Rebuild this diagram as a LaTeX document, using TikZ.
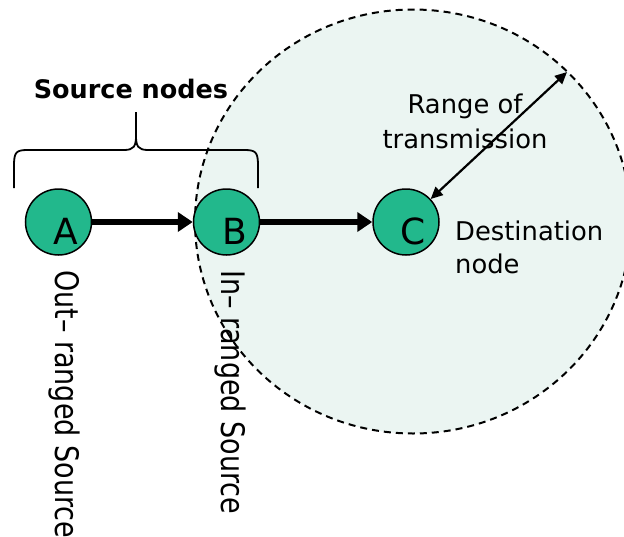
\documentclass[tikz,border=0pt]{standalone}
\usepackage{fontspec}
\setmainfont{DejaVu Sans}
\usetikzlibrary{arrows.meta}
\definecolor{rangefill}{RGB}{235,245,242}
\definecolor{nodegreen}{RGB}{34,184,140}
\begin{document}
\begin{tikzpicture}[x=1pt,y=-1pt,
  netnode/.style={circle,draw=black,line width=1.5pt,fill=nodegreen,minimum size=66pt,inner sep=0pt,
    font=\fontsize{36}{40}\selectfont},
  bigarrow/.style={line width=6pt,-{Triangle[length=15pt,width=19pt]}},
  rangearrow/.style={line width=2.2pt,{Triangle[length=12pt,width=11pt]}-{Triangle[length=12pt,width=11pt]}},
  lbl/.style={font=\fontsize{25.8}{34}\selectfont,inner sep=0pt},
  vlbl/.style={font=\fontsize{27}{30}\selectfont,inner sep=0pt,rotate=-90,anchor=base west}]
\useasboundingbox (0,0) rectangle (624,536);
\clip (0,0) rectangle (624,536);
% range of transmission
\fill[rangefill] (413,221.5) ellipse [x radius=218, y radius=212];
\draw[dashed,line width=2pt,dash pattern=on 7pt off 5pt] (413,221.5) ellipse [x radius=218, y radius=212];
% nodes
\node[netnode] (A) at (58.5,222) {\hspace*{14pt}\raisebox{-9pt}[\height][\depth]{A}};
\node[netnode] (B) at (226.5,222) {\hspace*{16pt}\raisebox{-9pt}[\height][\depth]{B}};
\node[netnode] (C) at (406,222) {\hspace*{14pt}\raisebox{-9pt}[\height][\depth]{C}};
\coordinate (R) at (567,72);
% connectors
\draw[bigarrow] (A) -- (B);
\draw[bigarrow] (B) -- (C);
\draw[rangearrow] (C) -- (R);
% brace
\coordinate (bl) at (14,188);
\coordinate (br) at (258,188);
\coordinate (bt) at (136,112);
\draw[line width=1.8pt] (bl) -- (14,166) .. controls (14,152) and (16,150) .. (28,150)
  -- (124,150) .. controls (134,150) and (136,146) .. (136,136) -- (bt)
  (136,136) .. controls (136,146) and (138,150) .. (148,150)
  -- (244,150) .. controls (256,150) and (258,152) .. (258,166) -- (br);
% labels
\node[lbl,font=\fontsize{25.5}{30}\bfseries\selectfont,anchor=base] (src) at (131,98) {Source nodes};
\node[lbl,anchor=base] (rng1) at (465,113) {Range of};
\node[lbl,anchor=base] (rng2) at (465,148) {transmission};
\node[lbl,anchor=base west] (dst1) at (455,240) {Destination};
\node[lbl,anchor=base west] (dst2) at (455,273) {node};
\node[vlbl] (outl) at (55,270) {\scalebox{1}[1.2]{Out– ranged Source}};
\node[vlbl] (inl) at (221,270) {\scalebox{1}[1.2]{In– ranged Source}};
\end{tikzpicture}
\end{document}
